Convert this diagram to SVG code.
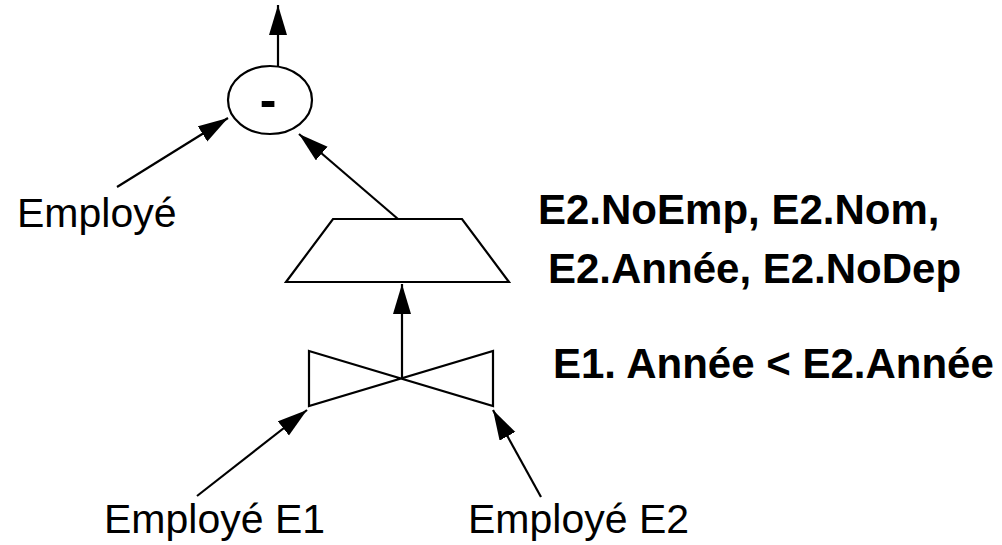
<svg xmlns="http://www.w3.org/2000/svg" width="1002" height="545" viewBox="0 0 1002 545">
<style>
.s{fill:none;stroke:#000;stroke-width:2.2}
.c{stroke:#000;stroke-width:2.2;fill:none;marker-end:url(#ah)}
.t{font-family:"Liberation Sans",Arial,sans-serif;font-size:41px;fill:#000}
.b{font-family:"Liberation Sans",Arial,sans-serif;font-size:42px;font-weight:bold;fill:#000}
</style>
<defs>
<marker id="ah" markerUnits="userSpaceOnUse" markerWidth="32" markerHeight="20" refX="30" refY="9" orient="auto">
<path d="M0,0 L30,9 L0,18 Z" fill="#000"/>
</marker>
</defs>
<rect width="1002" height="545" fill="#fff"/>
<g id="minus">
<ellipse class="s" cx="270" cy="100" rx="42" ry="34" fill="#fff"/>
<text class="b" x="268" y="117" text-anchor="middle" style="font-size:50px">-</text>
</g>
<g id="projection">
<path class="s" d="M333,219 L462,219 L509,282 L286,282 Z"/>
</g>
<g id="join">
<path class="s" d="M309,351 L493,406 L493,351 L309,406 Z"/>
</g>
<g id="employe">
<text class="t" x="17" y="227">Employé</text>
</g>
<g id="employe-e1">
<text class="t" x="104" y="533">Employé E1</text>
</g>
<g id="employe-e2">
<text class="t" x="468" y="533">Employé E2</text>
</g>
<g id="label-proj">
<text class="b" x="538" y="224">E2.NoEmp, E2.Nom,</text>
<text class="b" x="548" y="283">E2.Année, E2.NoDep</text>
</g>
<g id="label-join">
<text class="b" x="553" y="378">E1. Année &lt; E2.Année</text>
</g>
<g id="connectors">
<line class="c" x1="278" y1="66" x2="278" y2="5"/>
<line class="c" x1="117" y1="187" x2="228" y2="118"/>
<line class="c" x1="398" y1="219" x2="299" y2="134"/>
<line class="c" x1="402" y1="378" x2="402" y2="284"/>
<line class="c" x1="197" y1="496" x2="307" y2="410"/>
<line class="c" x1="541" y1="497" x2="493" y2="410"/>
</g>
</svg>
